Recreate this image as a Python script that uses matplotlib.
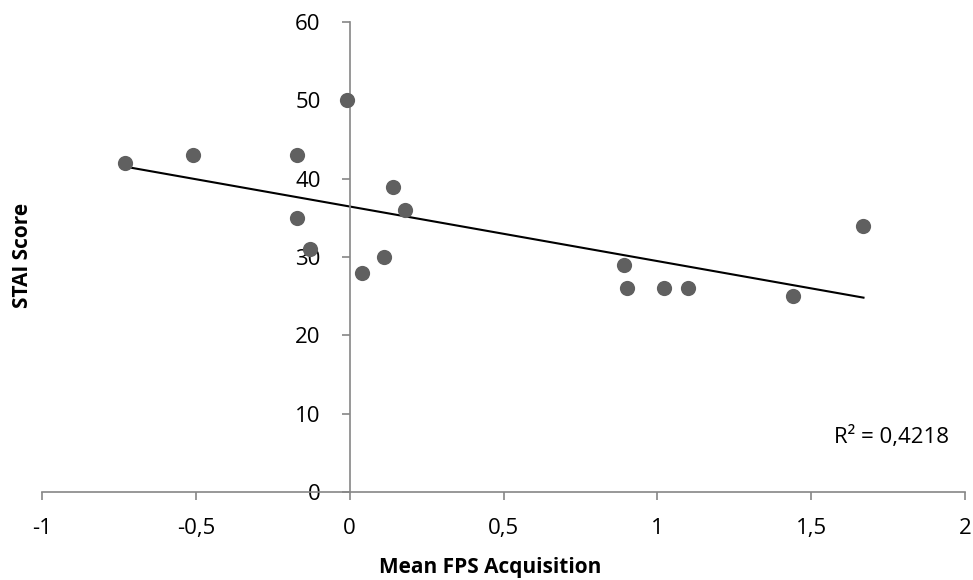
import numpy as np
import matplotlib
matplotlib.use("Agg")
import matplotlib.pyplot as plt
from matplotlib.ticker import FuncFormatter

plt.rcParams["font.family"] = ["Open Sans", "DejaVu Sans"]

# data
fps = [-0.73, -0.51, -0.17, -0.17, -0.13, -0.01, 0.04, 0.11, 0.14, 0.18,
       0.89, 0.90, 1.02, 1.10, 1.44, 1.67]
stai = [42, 43, 43, 35, 31, 50, 28, 30, 39, 36,
        29, 26, 26, 26, 25, 34]
r2_text = "R² = 0,4218"

x_ticks = [-1, -0.5, 0, 0.5, 1, 1.5, 2]
y_ticks = [0, 10, 20, 30, 40, 50, 60]

fig = plt.figure(figsize=(9.73, 5.80), dpi=100)
ax = fig.add_axes([0.0432, 0.1517, 0.9486, 0.8103])

ax.scatter(fps, stai, s=120, color="#606060", zorder=3, linewidths=0)

# linear trend line over the data range
slope, icpt = np.polyfit(fps, stai, 1)
xs = np.array([min(fps), max(fps)])
ax.plot(xs, slope * xs + icpt, color="black", lw=1.5, zorder=2)

ax.set_xlim(-1, 2)
ax.set_ylim(0, 60)
ax.set_xticks(x_ticks)
ax.set_yticks(y_ticks)
fmt = FuncFormatter(lambda v, p: ("%g" % v).replace(".", ","))
ax.xaxis.set_major_formatter(fmt)
ax.yaxis.set_major_formatter(fmt)

for s in ["top", "right"]:
    ax.spines[s].set_visible(False)
ax.spines["left"].set_position(("data", 0))
ax.spines["bottom"].set_position(("data", 0))
for s in ["left", "bottom"]:
    ax.spines[s].set_color("#868686")
    ax.spines[s].set_linewidth(1.2)

ax.tick_params(axis="both", colors="#868686", labelcolor="black",
               length=6, width=1.2, labelsize=16, direction="out")
ax.tick_params(axis="x", pad=13)
ax.tick_params(axis="y", pad=15)

ax.text(1.76, 7.0, r2_text, fontsize=16, ha="center", va="center")

fig.text(0.504, 0.022, "Mean FPS Acquisition", fontsize=15, fontweight="bold",
         ha="center", va="center")
fig.text(0.023, 0.56, "STAI Score", fontsize=15, fontweight="bold",
         ha="center", va="center", rotation=90)

fig.savefig("out.png", dpi=100)
